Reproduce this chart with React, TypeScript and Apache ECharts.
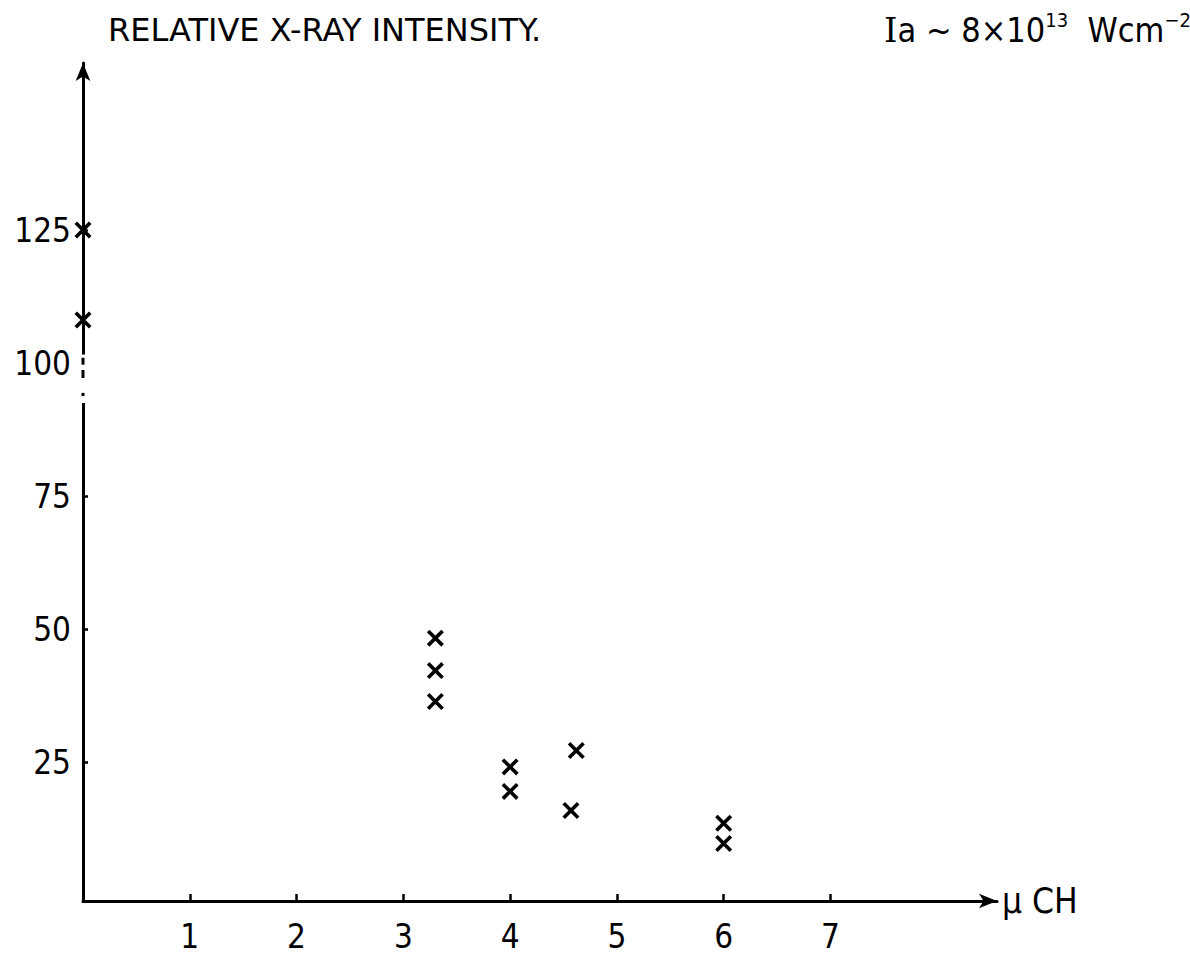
import React, { useEffect, useRef } from 'react';
import * as echarts from 'echarts';

// ---- data ----
const xValues = [0, 0, 3.3, 3.3, 3.3, 4.0, 4.0, 4.62, 4.57, 6.0, 6.0];
const yValues = [125.1, 108.2, 48.4, 42.3, 36.5, 24.2, 19.6, 27.3, 16.0, 13.6, 9.8];
const xTickValues = [1, 2, 3, 4, 5, 6, 7];
const yTickValues = [25, 50, 75, 125];
const yLabelValues = [25, 50, 75, 100, 125];
const titleText = 'RELATIVE X-RAY INTENSITY.';
const xAxisName = 'µ CH';

// axis break (values on y axis) and the short dashes inside it
const breakRange = [92.6, 101.7];
const breakDashes = [
  [99.8, 101.1],
  [97.3, 98.8],
  [93.9, 94.5],
];

const FONT = "'DejaVu Sans Condensed', 'Liberation Sans Narrow', 'DejaVu Sans', sans-serif";
const WIDE_FONT = "'DejaVu Sans', sans-serif";
const CROSS =
  'path://M0,15 L15,0 L100,85 L85,100 Z M85,0 L100,15 L15,100 L0,85 Z';

export default function App() {
  const ref = useRef<HTMLDivElement>(null);

  useEffect(() => {
    const chart = echarts.init(ref.current!, null, { renderer: 'svg' });
    const data = xValues.map((x, i) => [x, yValues[i]]);
    const option: any = {
      animation: false,
      backgroundColor: '#fff',
      grid: { left: 83, top: 63, width: 914, height: 838 },
      xAxis: {
        type: 'value',
        min: 0,
        max: 8.56,
        splitLine: { show: false },
        axisLine: {
          onZero: false,
          lineStyle: { color: '#000', width: 3 },
          symbol: ['none', 'arrow'],
          symbolSize: [11, 18],
        },
        axisTick: {
          show: true,
          inside: true,
          length: 7,
          lineStyle: { color: '#000', width: 2.5 },
          customValues: xTickValues,
        },
        axisLabel: {
          show: true,
          color: '#000',
          fontSize: 33,
          fontFamily: FONT,
          margin: 19,
          customValues: xTickValues,
        },
        name: xAxisName,
        nameLocation: 'end',
        nameGap: 5,
        nameTextStyle: { color: '#000', fontSize: 35, fontFamily: FONT },
      },
      yAxis: {
        type: 'value',
        min: -1,
        max: 156.5,
        splitLine: { show: false },
        axisLine: {
          onZero: false,
          lineStyle: { color: '#000', width: 3 },
          symbol: ['none', 'arrow'],
          symbolSize: [11, 18],
        },
        axisTick: {
          show: true,
          inside: true,
          length: 5,
          lineStyle: { color: '#000', width: 2.5 },
          customValues: yTickValues,
        },
        axisLabel: {
          show: true,
          color: '#000',
          fontSize: 33,
          fontFamily: FONT,
          margin: 12,
          customValues: yLabelValues,
        },
      },
      series: [
        {
          type: 'scatter',
          data,
          symbol: CROSS,
          symbolSize: 17,
          clip: false,
          itemStyle: { color: '#000', opacity: 1 },
          z: 5,
        },
      ],
    };
    chart.setOption(option);

    const ax = chart.convertToPixel({ xAxisIndex: 0 }, 0) as number;
    const py = (v: number) => chart.convertToPixel({ yAxisIndex: 0 }, v) as number;

    const graphics: any[] = [
      {
        type: 'rect',
        z: 10,
        shape: {
          x: ax - 5,
          y: py(breakRange[1]),
          width: 10,
          height: py(breakRange[0]) - py(breakRange[1]),
        },
        style: { fill: '#fff' },
      },
      ...breakDashes.map((d) => ({
        type: 'line',
        z: 11,
        shape: { x1: ax, y1: py(d[1]), x2: ax, y2: py(d[0]) },
        style: { stroke: '#000', lineWidth: 3 },
      })),
      {
        type: 'text',
        z: 12,
        left: 108,
        top: 14,
        style: {
          text: titleText,
          fontSize: 32,
          fontFamily: WIDE_FONT,
          fill: '#000',
        },
      },
      {
        type: 'text',
        z: 12,
        left: 884,
        top: 10,
        style: {
          text: '{i|I}{a|a ~ 8×10}{s|13}{a|  Wcm}{s|−2}',
          fill: '#000',
          rich: {
            i: { fontSize: 34, fontFamily: "'DejaVu Serif', serif", fill: '#000', lineHeight: 40 },
            a: { fontSize: 34, fontFamily: FONT, fill: '#000', lineHeight: 40 },
            s: { fontSize: 20, fontFamily: FONT, fill: '#000', lineHeight: 40, padding: [0, 0, 20, 0] },
          },
        },
      },
    ];
    chart.setOption({ graphic: graphics });

    return () => chart.dispose();
  }, []);

  return (
    <div
      ref={ref}
      style={{ position: 'fixed', left: 0, top: 0, width: 1190, height: 956, background: '#fff' }}
    />
  );
}
